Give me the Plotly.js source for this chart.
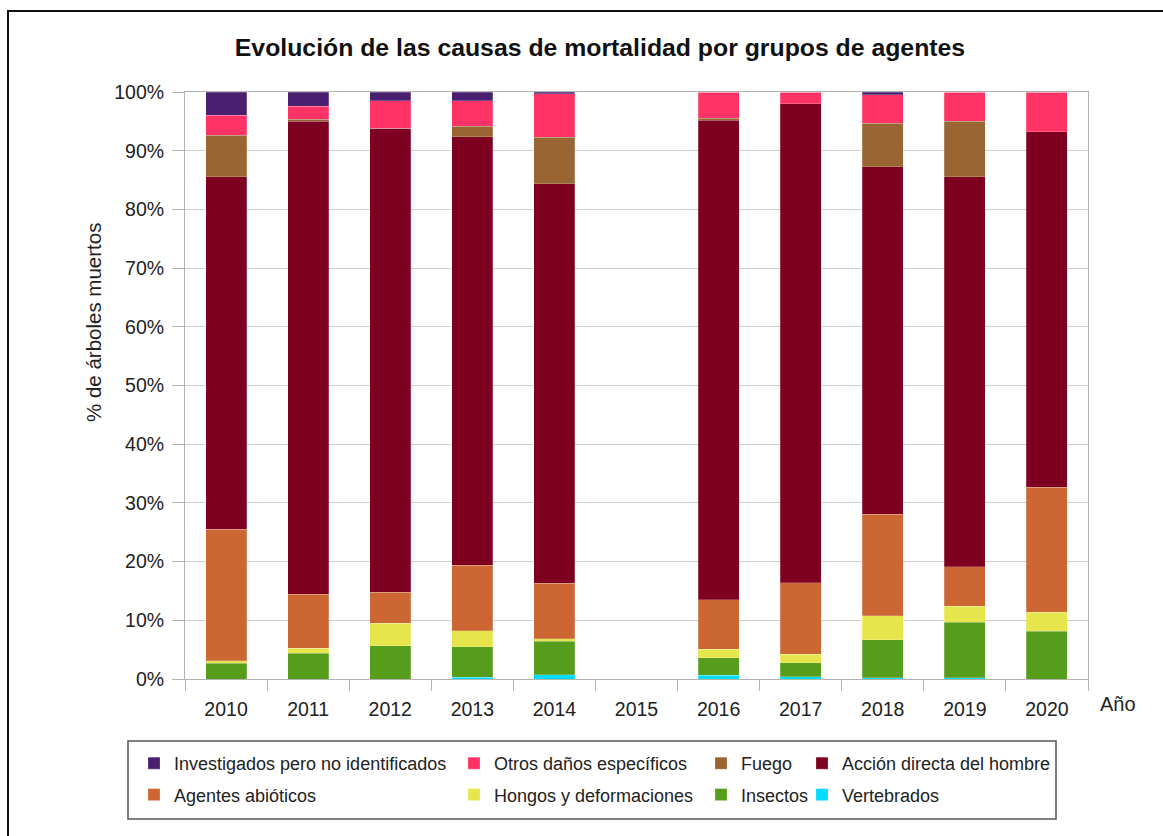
<!DOCTYPE html>
<html>
<head>
<meta charset="utf-8">
<script src="https://cdn.plot.ly/plotly-3.0.1.min.js"></script>
<style>html,body{margin:0;padding:0;background:#fff;}#chart{width:1163px;height:836px;}</style>
</head>
<body>
<div id="chart"></div>
<script>
const years = ['2010','2011','2012','2013','2014','2015','2016','2017','2018','2019','2020'];
const vertebrados   = [0,   0,   0,   0.3, 0.75, null, 0.6, 0.35, 0.25, 0.2, 0];
const insectos      = [2.7, 4.4, 5.7, 5.2, 5.65, null, 3.0, 2.45, 6.45, 9.5, 8.1];
const hongos        = [0.4, 0.8, 3.8, 2.7, 0.5,  null, 1.5, 1.4,  4.1,  2.7, 3.3];
const abioticos     = [22.4, 9.2, 5.3, 11.2, 9.4, null, 8.4, 12.2, 17.3, 6.7, 21.3];
const accionHombre  = [60.1, 80.6, 79.0, 73.0, 68.1, null, 81.7, 81.6, 59.2, 66.5, 60.5];
const fuego         = [7.0, 0.4, 0,   1.8, 7.9,  null, 0.3, 0,    7.4,  9.4, 0];
const otrosDanos    = [3.4, 2.2, 4.7, 4.3, 7.4,  null, 4.5, 2.0,  4.8,  5.0, 6.8];
const investigados  = [4.0, 2.4, 1.5, 1.5, 0.3,  null, 0,   0,    0.5,  0,   0];

const W = 1163, H = 836;
const L = 185, R = 1088, T = 92, B = 679;
const px = x => (x - L) / (R - L);
const py = y => (B - y) / (B - T);
const cx = x => x / W;
const cy = y => 1 - y / H;

const series = [
  {name:'Vertebrados', y:vertebrados, color:'#00DDFF', legend:'legend4', rank:2},
  {name:'Insectos', y:insectos, color:'#579D1C', legend:'legend3', rank:2},
  {name:'Hongos y deformaciones', y:hongos, color:'#E6E64C', legend:'legend2', rank:2},
  {name:'Agentes abióticos', y:abioticos, color:'#CC6633', legend:'legend', rank:2},
  {name:'Acción directa del hombre', y:accionHombre, color:'#7E0021', legend:'legend4', rank:1},
  {name:'Fuego', y:fuego, color:'#996633', legend:'legend3', rank:1},
  {name:'Otros daños específicos', y:otrosDanos, color:'#FF3366', legend:'legend2', rank:1},
  {name:'Investigados pero no identificados', y:investigados, color:'#4B1F6F', legend:'legend', rank:1}
];

const traces = series.map(s => ({
  type:'bar', name:s.name, x:years, y:s.y,
  marker:{color:s.color, line:{color:'rgba(255,255,255,0.35)', width:0.6}},
  legend:s.legend, legendrank:s.rank, legendgroup:s.name,
  hoverinfo:'x+y+name'
}));

const legFont = {family:'Liberation Sans, Arial, sans-serif', size:18, color:'#222'};
const mkLegend = (textX) => ({
  x: cx(textX - 40), y: cy(745), xref:'container', yref:'container',
  xanchor:'left', yanchor:'top', orientation:'v', bgcolor:'rgba(0,0,0,0)',
  borderwidth:0, font:legFont, tracegroupgap:5, traceorder:'grouped',
  itemclick:false, itemdoubleclick:false
});

const layout = {
  width:W, height:H,
  margin:{l:L, r:W-R, t:T, b:H-B, pad:0, autoexpand:false},
  paper_bgcolor:'#fff', plot_bgcolor:'#fff',
  barmode:'stack', bargap:0.5,
  font:{family:'Liberation Sans, Arial, sans-serif', color:'#222'},
  title:{text:'<b>Evolución de las causas de mortalidad por grupos de agentes</b>',
    xref:'container', yref:'container', x:cx(600), y:cy(47), xanchor:'center', yanchor:'middle',
    font:{family:'Liberation Sans, Arial, sans-serif', size:24.8, color:'#111'}},
  xaxis:{type:'category', tickson:'boundaries', ticks:'outside', ticklen:11, tickcolor:'#b3b3b3',
    showline:true, linecolor:'#b3b3b3', linewidth:1, mirror:true, showgrid:false,
    tickfont:{size:19.5, color:'#222'}, ticklabelstandoff:13, tickangle:0, automargin:false, fixedrange:true},
  yaxis:{range:[0,100], dtick:10, ticksuffix:'%', ticks:'outside', ticklen:12, tickcolor:'#b3b3b3',
    showline:true, linecolor:'#b3b3b3', linewidth:1, mirror:true, showgrid:true, gridcolor:'#cfcfcf',
    tickfont:{size:19.5, color:'#222'}, ticklabelstandoff:4, zeroline:false, automargin:false, fixedrange:true},
  legend: mkLegend(174),
  legend2: mkLegend(494),
  legend3: mkLegend(741),
  legend4: mkLegend(842),
  shapes:[
    {type:'rect', xref:'paper', yref:'paper', x0:px(8), x1:px(1180), y0:py(11), y1:py(860),
      line:{color:'#111', width:2}, fillcolor:'rgba(0,0,0,0)', layer:'below'},
    {type:'rect', xref:'paper', yref:'paper', x0:px(128), x1:px(1056), y0:py(741), y1:py(819),
      line:{color:'#555', width:1.5}, fillcolor:'rgba(0,0,0,0)'}
  ],
  annotations:[
    {text:'% de árboles muertos', xref:'paper', yref:'paper', x:px(93), y:py(323), textangle:-90,
      showarrow:false, xanchor:'center', yanchor:'middle', font:{size:20.5, color:'#222'}},
    {text:'Año', xref:'paper', yref:'paper', x:px(1118), y:py(704),
      showarrow:false, xanchor:'center', yanchor:'middle', font:{size:20, color:'#222'}}
  ]
};

Plotly.newPlot('chart', traces, layout, {displayModeBar:false});
</script>
</body>
</html>
